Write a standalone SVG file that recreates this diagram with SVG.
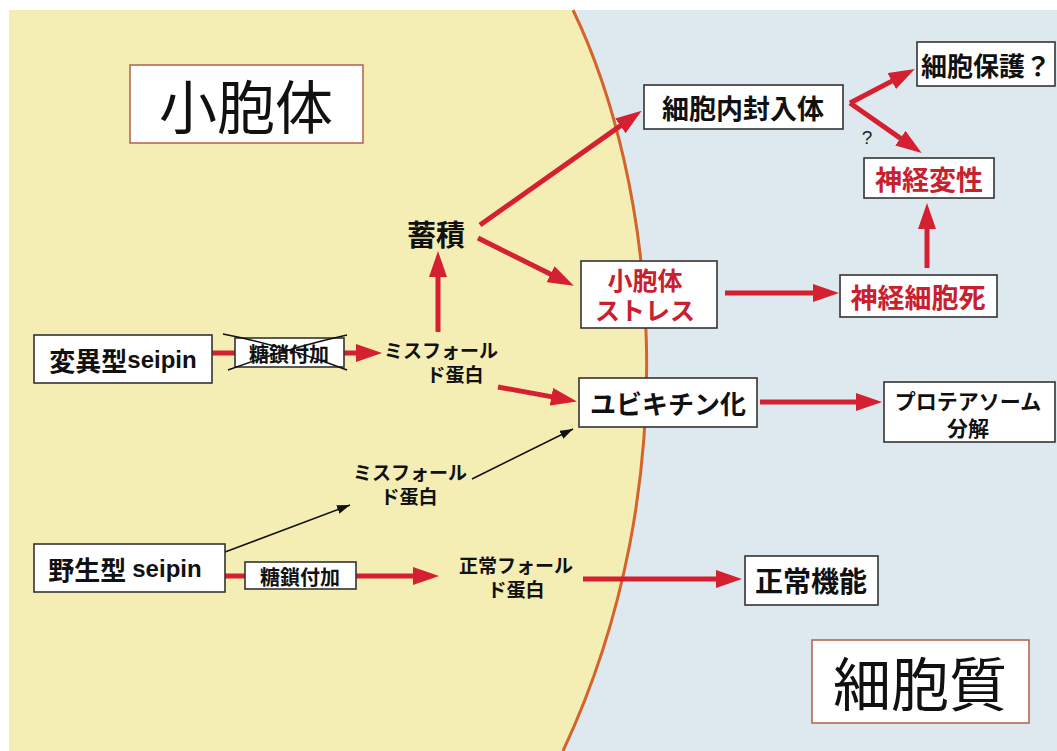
<svg xmlns="http://www.w3.org/2000/svg" width="1057" height="751" viewBox="0 0 1057 751">
<style>
.box{fill:#ffffff;stroke:#333333;stroke-width:1.6}
.tbox{fill:#ffffff;stroke:#b0604a;stroke-width:1.5}
.t{font-family:"Noto Sans CJK JP","Noto Sans",sans-serif;font-weight:700;fill:#111111;text-anchor:middle;dominant-baseline:central}
.r{fill:#c8202e}
.title{font-family:"Noto Sans CJK JP",sans-serif;font-weight:400;font-size:58px;fill:#111111;text-anchor:middle;dominant-baseline:central}
.ra{stroke:#d42030;stroke-width:5;fill:none;marker-end:url(#ah)}
.rl{stroke:#d42030;stroke-width:5;fill:none}
.ba{stroke:#111111;stroke-width:1.5;fill:none;marker-end:url(#bh)}
</style>
<defs>
<marker id="ah" markerUnits="userSpaceOnUse" markerWidth="26" markerHeight="18" refX="12" refY="9" orient="auto"><path d="M0,0 L26,9 L0,18 Z" fill="#d42030"/></marker>
<marker id="bh" markerUnits="userSpaceOnUse" markerWidth="13" markerHeight="9" refX="13" refY="4.5" orient="auto"><path d="M0,0 L13,4.5 L0,9 Z" fill="#111111"/></marker>
</defs>
<rect x="0" y="0" width="1057" height="751" fill="#ffffff"/>
<rect x="9" y="10" width="1048" height="741" fill="#dde9ef"/>
<path d="M9,10 L573,10 C655,180 690,480 563,751 L9,751 Z" fill="#f4edb4"/>
<path d="M573,10 C655,180 690,480 563,751" fill="none" stroke="#d2642c" stroke-width="3"/>

<g id="connectors">
<line class="ra" x1="480" y1="225" x2="630.2" y2="118.9"/>
<line class="ra" x1="478" y1="238" x2="561.3" y2="279.6"/>
<line class="ra" x1="438" y1="332" x2="438" y2="265"/>
<line class="rl" x1="212" y1="353" x2="235" y2="353"/>
<line class="ra" x1="344" y1="353" x2="368" y2="353"/>
<line class="ra" x1="498" y1="387" x2="563.2" y2="398.9"/>
<line class="ra" x1="725" y1="293" x2="825" y2="293"/>
<line class="ra" x1="927" y1="268" x2="927" y2="217"/>
<line class="ra" x1="850" y1="103" x2="902.4" y2="75.6"/>
<line class="ra" x1="850" y1="103" x2="910.2" y2="145.1"/>
<line class="ra" x1="760" y1="402" x2="868" y2="402"/>
<line class="rl" x1="225" y1="576" x2="245" y2="576"/>
<line class="ra" x1="356" y1="576" x2="425" y2="576"/>
<line class="ra" x1="583" y1="579" x2="728" y2="579"/>
<line class="ba" x1="225" y1="552" x2="350" y2="505"/>
<line class="ba" x1="472" y1="479" x2="573" y2="429"/>
</g>

<g id="title-er"><rect class="tbox" x="130" y="65" width="233" height="78"/><text class="title" x="246" y="104">小胞体</text></g>
<g id="title-cytoplasm"><rect class="tbox" x="812" y="640" width="217" height="83"/><text class="title" x="920" y="681">細胞質</text></g>

<g id="n-inclusion"><rect class="box" x="644" y="85" width="199" height="44"/><text class="t" x="743" y="107" font-size="27">細胞内封入体</text></g>
<g id="n-protect"><rect class="box" x="917" y="42" width="138" height="44"/><text class="t" x="986" y="64" font-size="26">細胞保護？</text></g>
<g id="q-mark"><text x="867" y="137" font-family="Liberation Sans,sans-serif" font-size="19" fill="#222" text-anchor="middle" dominant-baseline="central">?</text></g>
<g id="n-degeneration"><rect class="box" x="864" y="158" width="130" height="40"/><text class="t r" x="929" y="178" font-size="27">神経変性</text></g>
<g id="n-accumulation"><text class="t" x="436" y="233" font-size="29">蓄積</text></g>
<g id="n-erstress"><rect class="box" x="581" y="261" width="136" height="67"/><text class="t r" font-size="25"><tspan x="645" y="279">小胞体</tspan><tspan x="645" y="309">ストレス</tspan></text></g>
<g id="n-death"><rect class="box" x="840" y="275" width="157" height="42"/><text class="t r" x="918" y="296" font-size="27">神経細胞死</text></g>
<g id="n-mutant"><rect class="box" x="34" y="335" width="178" height="48"/><text class="t" x="123" y="359" font-size="26">変異型<tspan font-family="Liberation Sans,sans-serif" font-size="24">seipin</tspan></text></g>
<g id="n-glyco-crossed"><rect class="box" x="235" y="338" width="109" height="29"/><text class="t" x="289" y="353" font-size="20">糖鎖付加</text>
<path d="M223,334 Q285,346 347,370 M228,370 Q288,348 347,335" fill="none" stroke="#111" stroke-width="1.5"/></g>
<g id="n-misfold1"><text class="t" font-size="19"><tspan x="441" y="349">ミスフォール</tspan><tspan x="455" y="373">ド蛋白</tspan></text></g>
<g id="n-ubiquitin"><rect class="box" x="579" y="378" width="178" height="49"/><text class="t" x="668" y="402" font-size="26">ユビキチン化</text></g>
<g id="n-proteasome"><rect class="box" x="884" y="382" width="171" height="60"/><text class="t" font-size="21"><tspan x="968" y="400">プロテアソーム</tspan><tspan x="968" y="427">分解</tspan></text></g>
<g id="n-misfold2"><text class="t" font-size="19"><tspan x="410" y="471">ミスフォール</tspan><tspan x="409" y="495">ド蛋白</tspan></text></g>
<g id="n-wild"><rect class="box" x="34" y="544" width="191" height="48"/><text class="t" x="125" y="568" font-size="26">野生型 <tspan font-family="Liberation Sans,sans-serif" font-size="24">seipin</tspan></text></g>
<g id="n-glyco"><rect class="box" x="245" y="562" width="111" height="27"/><text class="t" x="300" y="576" font-size="20">糖鎖付加</text></g>
<g id="n-normal"><text class="t" font-size="19"><tspan x="516" y="564">正常フォール</tspan><tspan x="516" y="588">ド蛋白</tspan></text></g>
<g id="n-function"><rect class="box" x="745" y="556" width="133" height="49"/><text class="t" x="811" y="580" font-size="28">正常機能</text></g>
</svg>
